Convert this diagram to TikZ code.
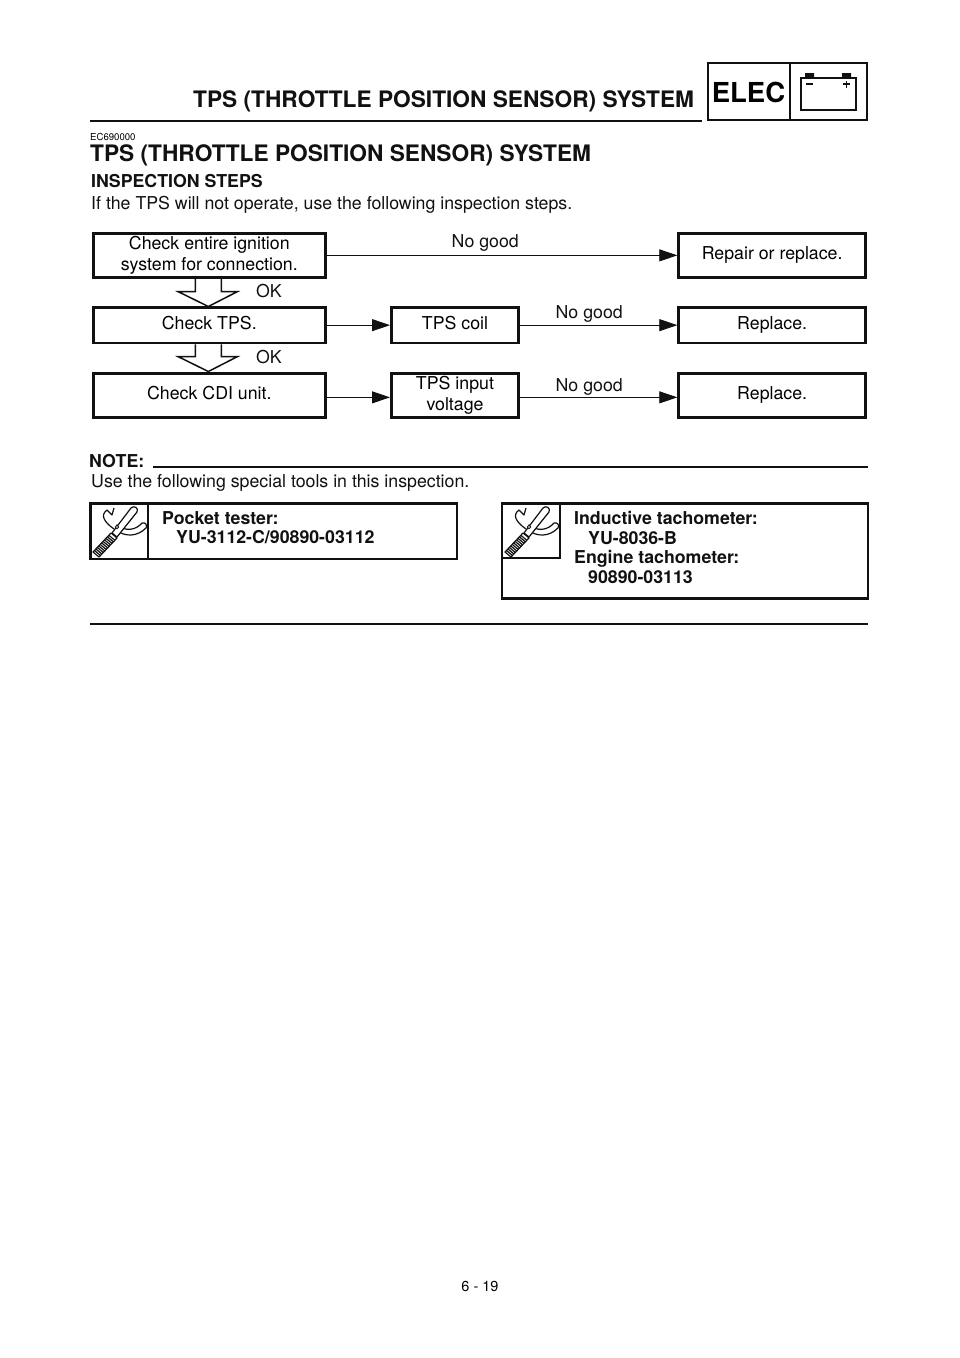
\documentclass[tikz,border=0pt]{standalone}
\usepackage{fontspec}
\setmainfont{TeX Gyre Heros}
\usepackage{tikz}
\usetikzlibrary{arrows.meta,positioning,calc}
\definecolor{PageInk}{HTML}{111111}
\newcommand{\toolicon}[2]{%
  \begin{scope}[shift={(#1,#2)},line width=1.2pt,PageInk,line join=round]
    \draw (24,27) .. controls (14,20) and (10,13) .. (17,8) -- (22,13) -- (24,6);
    \draw[fill=white] (27,23) .. controls (36,30) and (46,28) .. (52,21) .. controls (55,20) and (58,23) .. (56,26) .. controls (47,35) and (35,35) .. (26,28) -- cycle;
    \draw[fill=white] (22,31) -- (41,6) .. controls (44,3) and (49,6) .. (47,10) -- (27,35) -- cycle;
    \draw[fill=white] (3,50) -- (21,31) -- (27,36) -- (9,55) -- cycle;
    \foreach \s in {0.08,0.16,...,0.95}{
      \draw[line width=1.2pt] ($(3,50)!\s!(21,31)$) -- ($(9,55)!\s!(27,36)$);
    }
    \draw[fill=white,line width=0.9pt] (27,25) circle (1.8);
  \end{scope}}
\newcommand{\okarrow}[2]{\draw[hollow] ($(#1.south)+(-14,0)$) -- ++(0,#2) -- ++(-17,0) -- ($(#1.south)+(-1,#2+14.8)$) -- ($(#1.south)+(28,#2)$) -- ++(-16,0) -- ++(0,-#2);}
\begin{document}
\begin{tikzpicture}[x=1pt,y=-1pt,
    stepbox/.style={draw=PageInk,line width=2.8pt,align=center,font=\fontsize{17.75}{21}\selectfont,inner sep=0pt,anchor=north west},
    wide/.style={minimum width=232.4pt},
    mid/.style={minimum width=127.2pt},
    far/.style={minimum width=186.9pt},
    tall/.style={minimum height=44.5pt},
    low/.style={minimum height=35.5pt},
    raised/.style={text depth=5pt},
    flow/.style={-{Triangle[length=18pt,width=12pt]},line width=0.8pt,PageInk},
    hollow/.style={line width=1.5pt,PageInk,line join=miter},
    rulebar/.style={line width=2.4pt,PageInk},
    framed/.style={line width=2.6pt,PageInk},
    lbl/.style={font=\fontsize{17.75}{21}\selectfont,inner sep=0pt,text=PageInk},
    head/.style={font=\fontsize{22.7}{25}\bfseries\selectfont,inner sep=0pt,text=PageInk},
    tool/.style={font=\fontsize{17.75}{19.7}\bfseries\selectfont,inner sep=0pt,anchor=north west,align=left,text=PageInk}
  ]
    \useasboundingbox (0,0) rectangle (960,1358);
    \fill[white] (0,0) rectangle (960,1358);
    % page header
    \node[head,anchor=base west] (title) at (193,107) {TPS (THROTTLE POSITION SENSOR) SYSTEM};
    \draw[rulebar] (90,121) -- (702,121);
    \draw[line width=2.6pt,PageInk] (708,63) rectangle (867,120);
    \draw[line width=2.6pt,PageInk] (790,63) -- (790,120);
    \node[font=\fontsize{27.5}{32}\bfseries\selectfont,inner sep=0pt] (elec) at (748.5,92) {ELEC};
    \draw[line width=1.1pt,PageInk] (801,78) rectangle (856,110);
    \fill[PageInk] (805,73) rectangle (814,78) (842,73) rectangle (851,78);
    \draw[line width=1.4pt,PageInk] (806,84) -- (813,84) (843,84) -- (850,84) (846.5,80.5) -- (846.5,87.5);
    % headings
    \node[font=\fontsize{9.6}{11}\selectfont,inner sep=0pt,anchor=base west] (code) at (90,140) {EC690000};
    \node[head,anchor=base west] (sub) at (90,161.3) {TPS (THROTTLE POSITION SENSOR) SYSTEM};
    \node[tool,anchor=base west] (insp) at (91,187) {INSPECTION STEPS};
    \node[lbl,anchor=base west] (intro) at (91,209) {If the TPS will not operate, use the following inspection steps.};
    % flow
    \node[stepbox,wide,tall] (sys) at (91.7,231.7) {Check entire ignition\\system for connection.};
    \node[stepbox,far,tall] (fix) at (677.3,231.7) {Repair or replace.};
    \node[stepbox,wide,low,raised] (tps) at (91.7,306) {Check TPS.};
    \node[stepbox,mid,low,raised] (coil) at (390,306) {TPS coil};
    \node[stepbox,far,low,raised] (rep1) at (677.3,306) {Replace.};
    \node[stepbox,wide,tall,raised] (cdi) at (91.7,371.7) {Check CDI unit.};
    \node[stepbox,mid,tall] (volt) at (390,371.7) {TPS input\\voltage};
    \node[stepbox,far,tall,raised] (rep2) at (677.3,371.7) {Replace.};
    \draw[flow] (sys) -- node[lbl,pos=0.452,yshift=12pt]{No good} (fix);
    \draw[flow] (tps) -- (coil);
    \draw[flow] (coil) -- node[lbl,pos=0.44,yshift=11.5pt]{No good} (rep1);
    \draw[flow] ([yshift=-2pt]cdi.east) -- ([yshift=-2pt]volt.west);
    \draw[flow] ([yshift=-2pt]volt.east) -- node[lbl,pos=0.44,yshift=10.5pt]{No good} ([yshift=-2pt]rep2.west);
    \okarrow{sys}{12.7}
    \okarrow{tps}{12.4}
    \node[lbl] (ok1) at (269,291) {OK};
    \node[lbl] (ok2) at (269,357) {OK};
    % note
    \node[tool,anchor=base west] (note) at (89,467) {NOTE:};
    \draw[rulebar] (153,467) -- (868,467);
    \node[lbl,anchor=base west] (use) at (91,487) {Use the following special tools in this inspection.};
    % tool boxes
    \draw[framed] (90.2,503.3) rectangle (457,559);
    \draw[framed] (148,503.3) -- (148,559);
    \toolicon{90}{502}
    \node[tool] (pocket) at (162,511) {Pocket tester:\\\hspace*{14pt}YU-3112-C/90890-03112};
    \draw[framed] (502,503.3) rectangle (868,598.5);
    \draw[framed] (502,558) -- (560,558) -- (560,503.3);
    \toolicon{502}{502}
    \node[tool] (induct) at (574,511) {Inductive tachometer:\\\hspace*{14pt}YU-8036-B\\Engine tachometer:\\\hspace*{14pt}90890-03113};
    \draw[rulebar] (90,624) -- (868,624);
    \node[font=\fontsize{14.5}{17}\selectfont,inner sep=0pt] (page) at (480,1286) {6 - 19};
  \end{tikzpicture}
\end{document}
